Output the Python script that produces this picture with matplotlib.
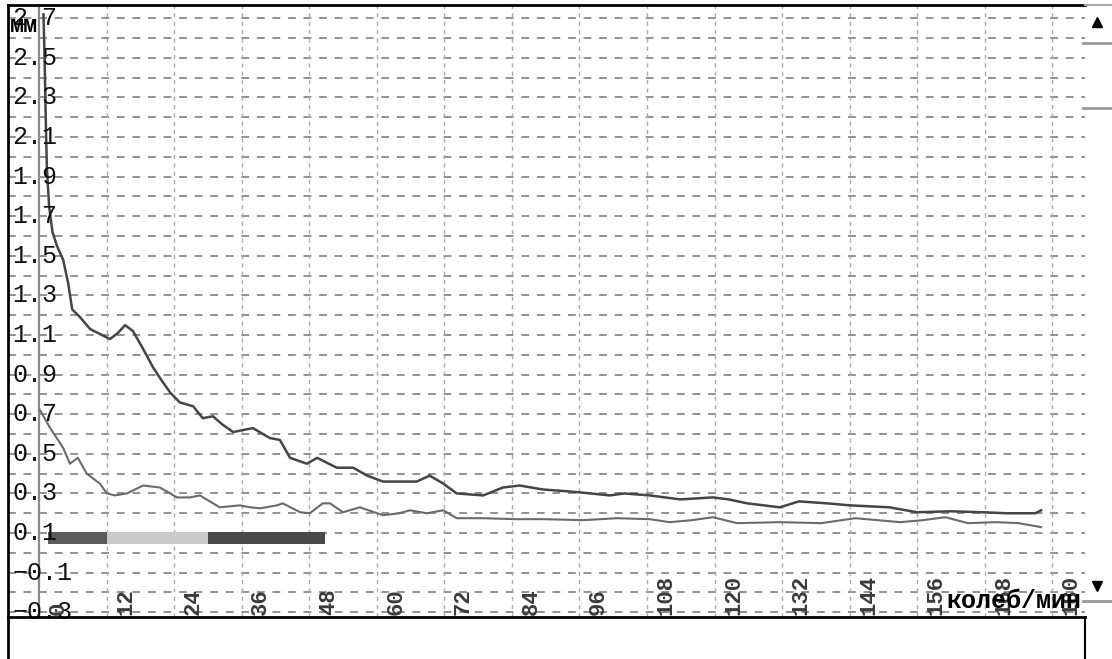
import matplotlib
matplotlib.use("Agg")
import matplotlib.pyplot as plt
import numpy as np

# upper (dark) curve
up_x = [0.8, 1.0, 1.2, 1.4, 1.8, 2.4, 3.2, 4.3, 5.2, 5.9, 7.3, 9.1, 10.5, 12.6, 14.0, 15.3,
        16.7, 18.5, 20.2, 21.8, 23.3, 25.0, 27.4, 29.1, 30.9, 32.5, 34.5, 36.2, 38.0, 41.0,
        42.8, 44.6, 47.6, 49.4, 52.9, 55.8, 58.3, 61.1, 64.0, 67.1, 69.4, 71.8, 74.2, 78.9,
        82.4, 85.4, 89.5, 94.3, 98.0, 101.4, 104.0, 108.5, 113.9, 119.7, 122.5, 125.8, 131.6,
        135.0, 140.0, 144.0, 151.0, 156.0, 162.0, 167.7, 172.0, 177.0, 178.0]
up_y = [2.72, 2.5, 2.2, 1.95, 1.75, 1.62, 1.55, 1.48, 1.36, 1.23, 1.19, 1.13, 1.11, 1.08, 1.11, 1.15,
        1.12, 1.03, 0.94, 0.87, 0.81, 0.76, 0.74, 0.68, 0.69, 0.65, 0.61, 0.62, 0.63, 0.58,
        0.57, 0.48, 0.45, 0.48, 0.43, 0.43, 0.39, 0.36, 0.36, 0.36, 0.39, 0.35, 0.30, 0.29,
        0.33, 0.34, 0.32, 0.31, 0.30, 0.29, 0.30, 0.29, 0.27, 0.28, 0.27, 0.25, 0.23,
        0.26, 0.25, 0.24, 0.23, 0.205, 0.21, 0.205, 0.20, 0.20, 0.215]

# lower (grey) curve
lo_x = [0.2, 2.0, 4.3, 5.5, 6.9, 8.5, 10.8, 12.1, 13.5, 15.6, 18.5, 21.5, 24.5, 26.8, 28.6,
        32.1, 35.7, 37.5, 39.3, 42.3, 43.3, 46.4, 48.1, 50.4, 51.7, 54.0, 57.0, 61.1, 64.0,
        65.9, 68.9, 71.8, 74.2, 78.9, 84.9, 90.0, 96.6, 102.7, 108.5, 112.0, 116.0, 119.7,
        124.0, 131.6, 139.0, 145.0, 149.0, 153.0, 157.0, 161.0, 165.0, 170.0, 174.0, 178.0]
lo_y = [0.72, 0.63, 0.53, 0.45, 0.48, 0.40, 0.35, 0.30, 0.29, 0.30, 0.34, 0.33, 0.28, 0.28, 0.29,
        0.23, 0.24, 0.23, 0.225, 0.24, 0.25, 0.205, 0.20, 0.25, 0.25, 0.205, 0.23, 0.19, 0.20,
        0.215, 0.20, 0.215, 0.175, 0.175, 0.17, 0.17, 0.165, 0.175, 0.17, 0.155, 0.165, 0.18,
        0.15, 0.155, 0.15, 0.175, 0.165, 0.155, 0.165, 0.18, 0.15, 0.155, 0.15, 0.13]

# stage bar segments
bar_start = [1.6, 12.1, 30.0]
bar_end = [12.1, 30.0, 50.8]
bar_colors = ['#5c5c5c', '#cacaca', '#4a4a4a']
bar_level = 0.075

x_ticks = list(range(0, 181, 12))
y_labels = [2.7, 2.5, 2.3, 2.1, 1.9, 1.7, 1.5, 1.3, 1.1, 0.9, 0.7, 0.5, 0.3, 0.1, -0.1, -0.3]
x_unit = 'колеб/мин'
y_unit = 'мм'

W, H = 1112, 659
fig = plt.figure(figsize=(W / 100, H / 100), dpi=100)
ax = fig.add_axes([8 / W, (H - 617) / H, 1077 / W, 612 / H])
ax.set_xlim(-5.5, 185.8)
ax.set_ylim(-0.324, 2.767)
for s in ax.spines.values():
    s.set_visible(False)
ax.set_xticks([])
ax.set_yticks([])

# grid
for yv in np.arange(-0.3, 2.75, 0.1):
    ax.axhline(yv, color='#929292', lw=1.4, ls=(0, (4, 4)), zorder=1)
for xv in x_ticks:
    if xv == 0:
        ax.axvline(xv, color='#8a8a8a', lw=1.6, zorder=1)
    else:
        ax.axvline(xv, color='#aaaaaa', lw=1.0, ls=(0, (3, 3)), zorder=1)

# curves
ax.plot(lo_x, lo_y, color='#6a6a6a', lw=1.5, zorder=3)
ax.plot(up_x, up_y, color='#454545', lw=1.8, zorder=3)

# stage bars
ax.broken_barh([(s, e - s) for s, e in zip(bar_start, bar_end)], (bar_level - 0.028, 0.056),
               facecolors=bar_colors, zorder=3)

# y labels inside the plot
ytr = ax.get_yaxis_transform()
for yv in y_labels:
    ax.text(0.004, yv, f'{yv:.1f}'.replace('-', '−'), transform=ytr, ha='left', va='center',
            family='Liberation Mono', fontsize=18, color='#111111', zorder=4)

# x labels, rotated
xtr = ax.get_xaxis_transform()
for xv in x_ticks:
    ax.text(xv + 3.4, 0.004, str(xv), transform=xtr, rotation=90, ha='center', va='bottom',
            family='Liberation Mono', fontsize=16, fontweight='bold', color='#3a3a3a', zorder=4)

ax.text(0.997, 0.006, x_unit, transform=ax.transAxes, ha='right', va='bottom',
        family='Liberation Mono', fontweight='bold', fontsize=18, color='black', zorder=5)
ax.text(0.002, 0.985, y_unit, transform=ax.transAxes, ha='left', va='top',
        family='Liberation Mono', fontweight='bold', fontsize=17, color='black', zorder=5)

# window frame, bottom box and scroll bar in pixel coordinates
ov = fig.add_axes([0, 0, 1, 1], zorder=10)
ov.set_xlim(0, W)
ov.set_ylim(H, 0)
ov.axis('off')
ov.plot([8, 1085], [5, 5], color='black', lw=2)
ov.plot([8, 8], [5, 659], color='black', lw=2)
ov.plot([8, 1085], [617, 617], color='black', lw=2)
ov.plot([1085, 1085], [617, 659], color='black', lw=1.5)
ov.plot([1085, 1112], [5, 5], color='#aaaaaa', lw=1.5)
ov.plot([1083, 1112], [43, 43], color='#999999', lw=2)
ov.plot([1083, 1112], [108, 108], color='#999999', lw=2)
ov.plot([1083, 1112], [601, 601], color='#999999', lw=2)
ov.plot([1097], [22], marker='^', color='black', ms=7)
ov.plot([1097], [586], marker='v', color='black', ms=7)

fig.savefig('out.png', dpi=100)
